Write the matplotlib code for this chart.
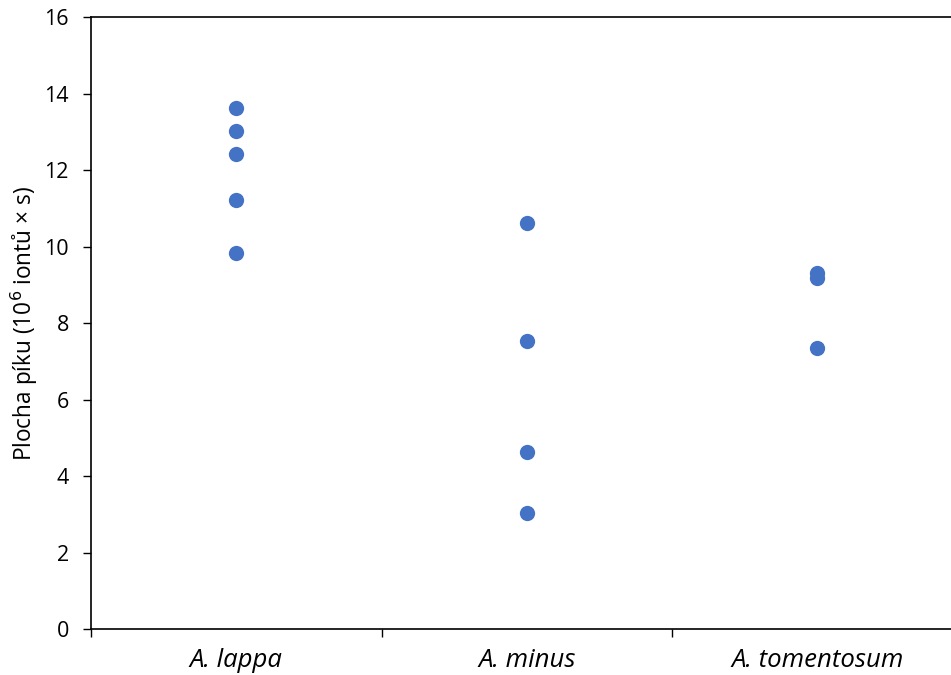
import matplotlib
matplotlib.use("Agg")
import matplotlib.pyplot as plt

species = ["A. lappa", "A. minus", "A. tomentosum"]
lappa = [13.62, 13.02, 12.42, 11.22, 9.83]
minus = [10.61, 7.53, 4.63, 3.03]
tomentosum = [9.31, 9.17, 7.35]

plt.rcParams['font.family'] = ['Open Sans', 'DejaVu Sans']

fig = plt.figure(figsize=(9.51, 6.75), dpi=100)
ax = fig.add_axes([0.0957, 0.0681, 0.9164, 0.9067])

groups = [lappa, minus, tomentosum]
for i, vals in enumerate(groups):
    ax.plot([i + 1] * len(vals), vals, 'o', color='#4472C4', markersize=11,
            markeredgewidth=0, clip_on=False)

ax.set_xlim(0.5, 3.5)
ax.set_ylim(0, 16)
ax.set_yticks(range(0, 17, 2))
ax.set_xticks([0.5, 1.5, 2.5, 3.5])
ax.set_xticklabels([])
ax.set_xticks([1, 2, 3], minor=True)
ax.set_xticklabels(species, minor=True, fontsize=18.5, style='italic')
ax.tick_params(axis='x', which='minor', length=0, pad=14)
ax.tick_params(axis='x', which='major', length=6, width=1, direction='out')
ax.tick_params(axis='y', length=6, width=1, direction='out', labelsize=15.5, pad=10)

for s in ax.spines.values():
    s.set_linewidth(1.2)
    s.set_color('black')

ax.set_ylabel("Plocha píku (10$^6$ iontů × s)", fontsize=16.3, labelpad=3)

fig.savefig("out.png", dpi=100)
